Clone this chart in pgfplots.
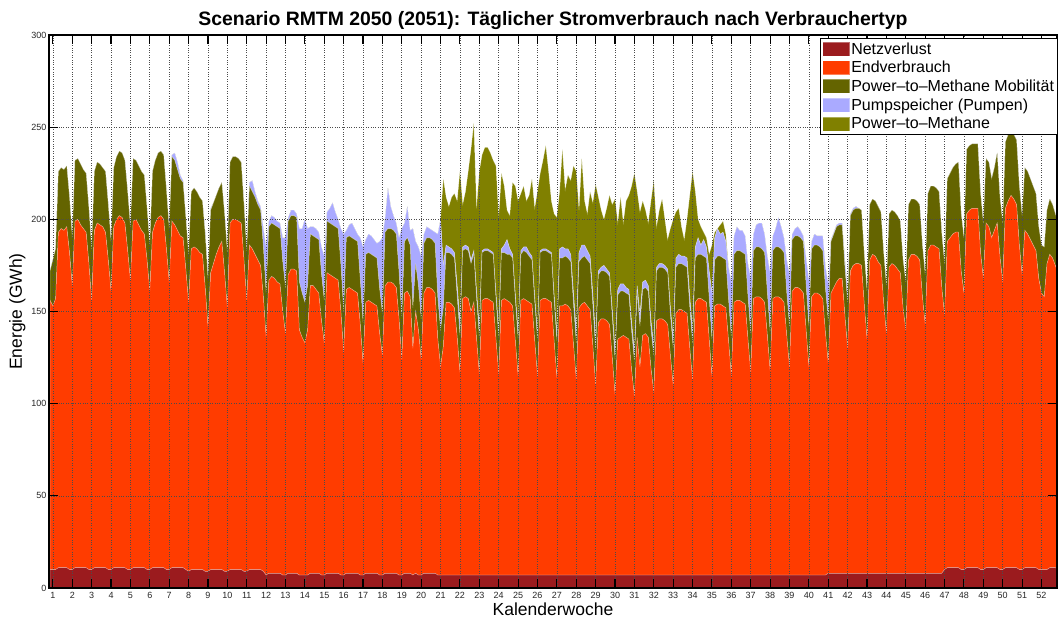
\documentclass[border=0pt]{standalone}
\usepackage{fontspec}
\setmainfont{Liberation Sans}
\usepackage{pgfplots}
\usepackage{pgfplotstable}
\pgfplotsset{compat=1.18}
\definecolor{netz}{RGB}{155,27,30}
\definecolor{endv}{RGB}{255,60,0}
\definecolor{ptmm}{RGB}{100,100,0}
\definecolor{pump}{RGB}{170,170,255}
\definecolor{ptm}{RGB}{128,128,0}

\pgfplotstableread{
x N E M P G
0 10 146 16 0 0
1 10 143 25 0 0
2 10 147 27 0 0
3 11 182 33 0 0
4 11 184 33 0 0
5 11 183 33 0 0
6 11 185 33 0 0
7 10 172 30 0 0
8 10 154 26 0 0
9 11 188 33 0 0
10 11 189 33 0 0
11 11 186 33 0 0
12 11 184 32 0 0
13 11 182 32 0 0
14 10 166 30 0 0
15 10 146 28 0 0
16 11 183 32 0 0
17 11 187 33 0 0
18 11 186 33 0 0
19 11 185 32 0 0
20 11 182 33 0 0
21 10 168 30 0 0
22 10 151 27 0 0
23 11 185 32 0 0
24 11 189 34 0 0
25 11 191 35 0 0
26 11 190 35 0 0
27 11 187 34 0 0
28 10 173 32 0 0
29 10 157 29 0 0
30 11 188 34 0 0
31 11 189 32 0 0
32 11 186 32 0 0
33 11 183 32 0 0
34 11 181 32 0 0
35 10 168 28 0 0
36 10 151 25 0 0
37 11 182 33 0 0
38 11 187 34 0 0
39 11 190 35 0 0
40 11 191 35 0 0
41 11 189 35 0 0
42 10 174 32 0 0
43 10 156 29 0 0
44 11 188 35 1 0
45 11 186 35 4 0
46 11 183 33 4 0
47 11 180 31 2 0
48 11 179 30 1 0
49 10 163 28 0 0
50 9 146 26 0 0
51 10 174 31 0 0
52 10 175 32 0 0
53 10 174 31 0 0
54 10 172 30 0 0
55 10 171 29 0 0
56 9 154 29 1 0
57 9 133 26 2 0
58 10 161 34 1 0
59 10 166 33 0 0
60 10 171 32 0 0
61 10 175 32 0 0
62 10 178 32 0 0
63 9 162 32 0 0
64 9 143 30 0 0
65 10 188 33 0 0
66 10 190 34 0 0
67 10 190 34 0 0
68 10 189 34 0 0
69 10 188 33 0 0
70 9 169 30 1 0
71 9 147 27 3 0
72 10 176 32 2 0
73 10 174 31 6 0
74 10 171 31 3 0
75 10 168 30 2 0
76 10 165 30 2 0
77 9 149 27 10 0
78 7 129 24 25 0
79 8 159 29 3 0
80 8 161 29 4 0
81 8 160 29 4 0
82 8 158 30 3 0
83 8 157 30 3 0
84 7 143 27 13 0
85 7 131 25 27 0
86 8 162 29 2 0
87 8 165 29 3 0
88 8 165 29 3 0
89 8 164 29 2 0
90 7 133 26 29 0
91 7 129 24 35 0
92 7 126 22 45 0
93 7 133 24 31 0
94 8 156 28 4 0
95 8 156 27 5 0
96 8 154 28 5 0
97 8 152 29 4 0
98 7 138 25 15 0
99 7 126 23 24 0
100 8 163 28 5 0
101 8 162 28 8 0
102 8 161 28 12 0
103 8 160 28 8 0
104 8 159 28 5 0
105 7 143 25 20 0
106 7 121 22 42 0
107 8 154 28 4 0
108 8 155 28 6 0
109 8 154 28 8 0
110 8 153 28 6 0
111 8 152 28 4 0
112 7 136 24 23 0
113 7 115 22 41 0
114 8 147 26 8 0
115 8 148 26 10 0
116 8 147 26 10 0
117 8 146 26 9 0
118 8 145 26 8 0
119 7 131 24 26 0
120 7 119 23 41 0
121 8 156 29 8 0
122 8 158 29 22 0
123 8 158 29 12 0
124 8 157 29 8 0
125 8 155 29 6 0
126 7 139 25 19 0
127 7 117 23 48 0
128 8 152 28 10 0
129 8 153 29 17 0
130 8 150 28 8 0
131 7 123 22 43 0
132 8 142 26 12 0
133 7 133 24 21 0
134 7 117 22 34 0
135 8 152 27 5 0
136 8 155 27 6 0
137 8 155 27 5 0
138 8 154 27 5 0
139 8 152 27 6 0
140 7 128 22 35 0
141 7 113 20 60 0
142 7 124 21 23 47
143 7 148 27 4 26
144 7 148 27 3 22
145 7 147 27 3 28
146 7 145 27 3 32
147 7 129 22 6 46
148 7 110 20 8 81
149 7 150 26 2 23
150 7 151 26 2 29
151 7 150 26 2 41
152 7 143 26 2 60
153 7 148 26 2 69
154 7 128 22 4 45
155 7 109 20 5 85
156 7 149 26 1 52
157 7 150 26 1 55
158 7 150 26 1 55
159 7 149 26 1 53
160 7 148 26 1 50
161 7 128 22 3 69
162 7 109 20 4 61
163 7 149 26 2 41
164 7 150 25 4 32
165 7 149 25 8 16
166 7 148 26 3 18
167 7 146 26 2 39
168 7 127 22 3 59
169 7 108 20 4 71
170 7 149 25 2 31
171 7 150 26 2 33
172 7 149 26 3 25
173 7 148 25 2 31
174 7 147 24 2 42
175 7 127 21 3 48
176 7 108 20 3 77
177 7 149 26 1 42
178 7 150 26 1 48
179 7 150 26 1 56
180 7 149 26 1 43
181 7 148 26 1 28
182 7 127 22 3 44
183 7 107 20 4 63
184 7 146 26 5 31
185 7 146 26 6 53
186 7 147 26 4 32
187 7 146 26 5 40
188 7 144 26 4 40
189 7 125 22 6 69
190 7 106 20 6 87
191 7 145 25 5 23
192 7 147 25 7 47
193 7 148 25 6 24
194 7 146 25 5 20
195 7 144 25 4 35
196 7 124 22 6 50
197 7 103 19 6 84
198 7 137 26 2 40
199 7 139 26 2 31
200 7 139 26 3 25
201 7 138 26 2 33
202 7 136 26 2 42
203 7 118 22 4 57
204 7 98 19 5 82
205 7 128 24 3 36
206 7 129 25 4 47
207 7 130 24 4 33
208 7 129 24 3 47
209 7 128 24 3 51
210 7 111 21 5 74
211 7 97 19 5 97
212 7 129 24 4 51
213 7 113 22 6 56
214 7 130 25 4 44
215 7 131 25 4 38
216 7 129 25 3 34
217 7 112 21 5 65
218 7 99 20 5 90
219 7 138 27 2 22
220 7 139 28 2 29
221 7 139 28 2 35
222 7 138 28 2 25
223 7 136 28 2 16
224 7 119 22 4 43
225 7 103 20 5 65
226 7 142 25 5 25
227 7 144 25 5 25
228 7 144 25 4 16
229 7 143 25 5 9
230 7 142 25 5 21
231 7 123 22 6 55
232 7 106 20 6 87
233 7 148 24 6 30
234 7 150 24 9 10
235 7 150 24 5 10
236 7 149 24 9 4
237 7 148 24 6 5
238 7 128 22 15 9
239 7 108 20 25 26
240 7 146 25 12 3
241 7 147 26 15 0
242 7 147 26 12 5
243 7 146 26 14 6
244 7 145 26 10 4
245 7 127 22 18 0
246 7 108 21 30 0
247 7 148 26 10 0
248 7 149 27 13 0
249 7 149 27 11 0
250 7 148 27 12 0
251 7 147 27 10 0
252 7 128 23 18 0
253 7 110 21 30 0
254 7 150 26 9 0
255 7 151 27 12 0
256 7 151 27 13 0
257 7 150 27 14 0
258 7 148 27 10 0
259 7 130 23 20 0
260 7 111 21 32 0
261 7 150 26 8 0
262 7 151 27 10 0
263 7 151 27 16 0
264 7 150 27 12 0
265 7 148 27 8 0
266 7 130 23 18 0
267 7 113 22 28 0
268 7 154 28 3 0
269 7 156 28 4 0
270 7 156 28 5 0
271 7 155 28 4 0
272 7 153 28 3 0
273 7 133 24 15 0
274 7 113 22 25 0
275 7 151 26 4 0
276 7 153 26 6 0
277 7 153 26 5 0
278 7 152 26 6 0
279 7 150 26 8 0
280 7 131 24 12 0
281 8 114 23 20 0
282 8 152 28 1 0
283 8 155 29 1 0
284 8 158 30 1 0
285 8 160 29 1 0
286 8 160 29 1 0
287 8 140 26 4 0
288 8 122 25 6 0
289 8 164 30 1 0
290 8 167 30 1 0
291 8 168 30 1 0
292 8 168 30 0 0
293 8 167 30 0 0
294 8 146 27 0 0
295 8 127 26 0 0
296 8 170 30 0 0
297 8 173 30 0 0
298 8 172 30 0 0
299 8 169 30 0 0
300 8 167 29 0 0
301 8 147 27 0 0
302 8 130 26 0 0
303 8 166 29 0 0
304 8 168 29 0 0
305 8 167 29 0 0
306 8 165 29 0 0
307 8 163 28 0 0
308 8 144 26 0 0
309 8 132 26 0 0
310 8 170 30 0 0
311 8 173 30 0 0
312 8 173 30 0 0
313 8 172 30 0 0
314 8 170 30 0 0
315 8 150 28 0 0
316 8 135 27 0 0
317 8 175 31 0 0
318 8 178 32 0 0
319 8 178 32 0 0
320 8 177 32 0 0
321 8 176 31 0 0
322 8 155 29 0 0
323 10 138 28 0 0
324 11 177 34 0 0
325 11 179 35 0 0
326 11 181 36 0 0
327 11 182 37 0 0
328 11 182 38 0 0
329 10 162 31 0 0
330 10 150 30 0 0
331 11 192 35 0 0
332 11 194 35 0 0
333 11 195 35 0 0
334 11 195 35 0 0
335 11 195 35 0 0
336 10 172 32 0 0
337 10 158 30 0 0
338 11 187 35 0 0
339 11 185 35 0 0
340 11 179 32 0 0
341 11 183 34 0 0
342 11 187 38 0 0
343 10 170 32 0 0
344 10 156 32 0 0
345 11 195 36 0 0
346 11 199 36 0 0
347 11 202 35 0 0
348 11 200 35 0 0
349 11 197 35 0 0
350 10 176 32 0 0
351 10 160 32 0 0
352 11 183 34 0 0
353 11 181 34 0 0
354 11 178 33 0 0
355 11 175 32 0 0
356 11 172 31 0 0
357 10 158 28 0 0
358 10 150 26 0 0
359 10 148 27 0 0
360 10 166 29 0 0
361 11 170 30 0 0
362 11 168 29 0 0
363 11 164 28 0 0
364 10 160 28 0 0
}\dat

\begin{document}
\begin{tikzpicture}
\useasboundingbox (0,0) rectangle (1060pt,619pt);
\begin{axis}[
  at={(49pt,31pt)}, anchor=south west,
  scale only axis, width=1008pt, height=553pt,
  xmin=-0.4, xmax=363.6, ymin=0, ymax=300,
  stack plots=y,
  axis on top,
  xtick={1,8,...,358},
  xticklabels={1,2,3,4,5,6,7,8,9,10,11,12,13,14,15,16,17,18,19,20,21,22,23,24,25,26,27,28,29,30,31,32,33,34,35,36,37,38,39,40,41,42,43,44,45,46,47,48,49,50,51,52},
  ytick={0,50,100,150,200,250,300},
  grid=major,
  major grid style={dotted, black!70, line width=0.6pt},
  tick style={black, line width=1.1pt},
  major tick length=9pt,
  axis line style={black, line width=1.3pt},
  tick label style={font=\fontsize{9}{10}\selectfont, color=black!85},
  xticklabel style={yshift=-1pt},
  yticklabel style={xshift=1pt},
  /pgf/number format/assume math mode=true,
  xlabel={Kalenderwoche}, ylabel={Energie (GWh)},
  label style={font=\fontsize{17.5}{20}\selectfont},
  xlabel style={yshift=3pt},
  ylabel style={yshift=-1pt},
  title={Scenario RMTM 2050 (2051): Täglicher Stromverbrauch nach Verbrauchertyp},
  title style={font=\bfseries\fontsize{19.4}{22}\selectfont, yshift=-4pt},
  legend image code/.code={\fill[#1] (0pt,-7pt) rectangle (27pt,7pt);},
  legend cell align=left,
  legend style={at={(1,1)}, anchor=north east, xshift=1pt, yshift=-3pt,
    draw=black, line width=0.9pt, fill=white,
    font=\fontsize{16}{18}\selectfont,
    inner xsep=2pt, inner ysep=2.5pt, row sep=2.6pt,
    nodes={inner sep=1.5pt}},
  every axis plot/.append style={draw=white, draw opacity=0.35, line width=0.5pt},
]
\addplot[fill=netz] table[x=x,y=N]{\dat} \closedcycle;
\addplot[fill=endv] table[x=x,y=E]{\dat} \closedcycle;
\addplot[fill=ptmm] table[x=x,y=M]{\dat} \closedcycle;
\addplot[fill=pump] table[x=x,y=P]{\dat} \closedcycle;
\addplot[fill=ptm] table[x=x,y=G]{\dat} \closedcycle;
\legend{Netzverlust, Endverbrauch, Power--to--Methane Mobilität, Pumpspeicher (Pumpen), Power--to--Methane}
\end{axis}
\end{tikzpicture}
\end{document}
